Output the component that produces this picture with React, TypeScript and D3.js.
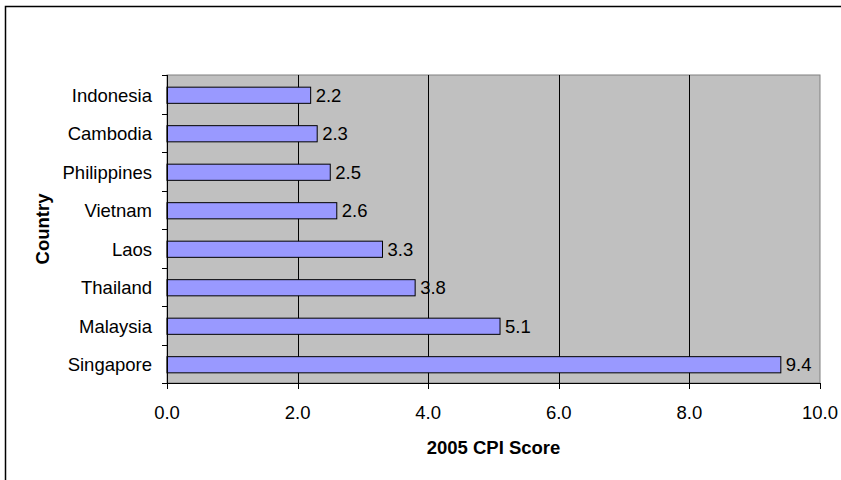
import React, { useEffect, useRef } from 'react';
import * as d3 from 'd3';

const countries = ['Indonesia', 'Cambodia', 'Philippines', 'Vietnam', 'Laos', 'Thailand', 'Malaysia', 'Singapore'];
const scores = [2.2, 2.3, 2.5, 2.6, 3.3, 3.8, 5.1, 9.4];
const xTicks = [0, 2, 4, 6, 8, 10];

export default function App() {
  const svgRef = useRef<SVGSVGElement>(null);

  useEffect(() => {
    if (!svgRef.current) return;
    const svg = d3.select(svgRef.current);
    svg.selectAll('*').remove();

    const width = 841;
    const height = 480;
    const m = { left: 167, right: 820, top: 75, bottom: 383 };
    const font = 'Liberation Sans, Arial, sans-serif';
    const fs = 18.5;

    // outer chart border
    svg.append('rect')
      .attr('x', 5.5).attr('y', 6.5)
      .attr('width', width).attr('height', height)
      .attr('fill', '#fff')
      .attr('stroke', '#000').attr('stroke-width', 1.5);

    const x = d3.scaleLinear().domain([0, 10]).range([m.left, m.right]);
    const y = d3.scaleBand<string>().domain(countries).range([m.top, m.bottom]).paddingInner(0.58).paddingOuter(0.29);
    const band = (m.bottom - m.top) / countries.length;

    // plot area
    svg.append('rect')
      .attr('x', m.left).attr('y', m.top)
      .attr('width', m.right - m.left).attr('height', m.bottom - m.top)
      .attr('fill', '#c0c0c0')
      .attr('stroke', '#808080').attr('stroke-width', 1);

    // gridlines
    svg.selectAll('line.grid')
      .data(xTicks.slice(1, -1))
      .enter().append('line')
      .attr('x1', d => Math.round(x(d)) + 0.5).attr('x2', d => Math.round(x(d)) + 0.5)
      .attr('y1', m.top).attr('y2', m.bottom)
      .attr('stroke', '#000').attr('stroke-width', 1);

    // bars
    svg.selectAll('rect.bar')
      .data(countries)
      .enter().append('rect')
      .attr('x', m.left)
      .attr('y', d => (y(d) as number) + 1)
      .attr('width', (_, i) => x(scores[i]) - m.left)
      .attr('height', y.bandwidth())
      .attr('fill', '#9999ff')
      .attr('stroke', '#000').attr('stroke-width', 1);

    // value labels
    svg.selectAll('text.val')
      .data(countries)
      .enter().append('text')
      .attr('x', (_, i) => x(scores[i]) + 5)
      .attr('y', d => (y(d) as number) + 1 + y.bandwidth() / 2)
      .attr('dy', '0.36em')
      .attr('font-family', font).attr('font-size', fs)
      .text((_, i) => scores[i].toFixed(1));

    // left axis
    svg.append('line')
      .attr('x1', m.left + 0.5).attr('x2', m.left + 0.5)
      .attr('y1', m.top).attr('y2', m.bottom + 5)
      .attr('stroke', '#000');
    svg.selectAll('line.ytick')
      .data(d3.range(countries.length + 1))
      .enter().append('line')
      .attr('x1', m.left - 5).attr('x2', m.left)
      .attr('y1', i => Math.round(m.top + i * band) + 0.5)
      .attr('y2', i => Math.round(m.top + i * band) + 0.5)
      .attr('stroke', '#000');
    svg.selectAll('text.ylab')
      .data(countries)
      .enter().append('text')
      .attr('x', m.left - 15)
      .attr('y', d => (y(d) as number) + 1 + y.bandwidth() / 2)
      .attr('dy', '0.36em')
      .attr('text-anchor', 'end')
      .attr('font-family', font).attr('font-size', fs)
      .text(d => d);

    // bottom axis
    svg.append('line')
      .attr('x1', m.left).attr('x2', m.right)
      .attr('y1', m.bottom + 0.5).attr('y2', m.bottom + 0.5)
      .attr('stroke', '#000');
    svg.selectAll('line.xtick')
      .data(xTicks)
      .enter().append('line')
      .attr('x1', d => Math.round(x(d)) + 0.5).attr('x2', d => Math.round(x(d)) + 0.5)
      .attr('y1', m.bottom).attr('y2', m.bottom + 6)
      .attr('stroke', '#000');
    svg.selectAll('text.xlab')
      .data(xTicks)
      .enter().append('text')
      .attr('x', d => x(d))
      .attr('y', 419)
      .attr('text-anchor', 'middle')
      .attr('font-family', font).attr('font-size', fs)
      .text(d => d.toFixed(1));

    // axis titles
    svg.append('text')
      .attr('x', (m.left + m.right) / 2)
      .attr('y', 454)
      .attr('text-anchor', 'middle')
      .attr('font-family', font).attr('font-size', 18.5).attr('font-weight', 'bold')
      .text('2005 CPI Score');
    svg.append('text')
      .attr('transform', `translate(49, ${(m.top + m.bottom) / 2}) rotate(-90)`)
      .attr('text-anchor', 'middle')
      .attr('font-family', font).attr('font-size', 18.5).attr('font-weight', 'bold')
      .text('Country');
  }, []);

  return (
    <svg ref={svgRef} width={841} height={480} style={{ position: 'absolute', left: 0, top: 0 }} />
  );
}
